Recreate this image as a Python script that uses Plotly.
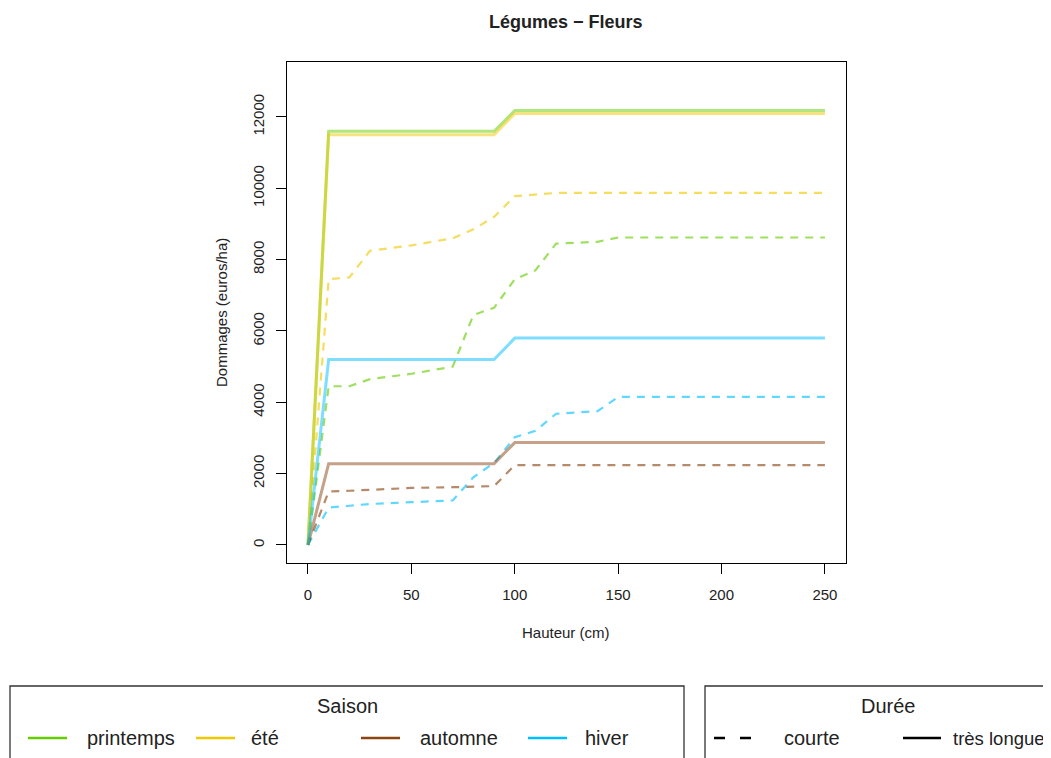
import plotly.graph_objects as go

# ---- data ----
x_long = [0, 10, 90, 100, 250]
printemps_long = [0, 11600, 11600, 12180, 12180]
ete_long = [0, 11500, 11500, 12100, 12100]
automne_long = [0, 2280, 2280, 2870, 2870]
hiver_long = [0, 5200, 5200, 5800, 5800]

x_court = [0, 10, 20, 30, 50, 70, 80, 90, 100, 110, 120, 140, 150, 250]
printemps_court = [0, 4450, 4450, 4650, 4800, 5000, 6450, 6650, 7450, 7700, 8450, 8500, 8620, 8620]
ete_court = [0, 7450, 7500, 8250, 8400, 8600, 8850, 9200, 9780, 9820, 9870, 9870, 9870, 9870]
automne_court = [0, 1500, 1520, 1550, 1600, 1620, 1630, 1650, 2240, 2240, 2240, 2240, 2240, 2240]
hiver_court = [0, 1050, 1100, 1150, 1200, 1250, 1900, 2300, 3020, 3200, 3680, 3750, 4150, 4150]

saisons = ["printemps", "été", "automne", "hiver"]
couleurs = ["#66CD00", "#EEC900", "#8B4513", "#00BFFF"]
durees = ["courte", "très longue"]

x_ticks = [0, 50, 100, 150, 200, 250]
y_ticks = [0, 2000, 4000, 6000, 8000, 10000, 12000]

OFF = 8  # page body margin
W, H = 1051 - OFF, 758 - OFF
# plot frame in screen pixels
SL, SR, ST, SB = 287, 846, 62, 563
L, R, T, B = SL - OFF, SR - OFF, ST - OFF, SB - OFF
FONT = "Liberation Sans, Arial, sans-serif"


def px(x):
    return (x - SL) / (SR - SL)


def py(y):
    return (SB - y) / (SB - ST)


fig = go.Figure()
long_series = [printemps_long, ete_long, automne_long, hiver_long]
court_series = [printemps_court, ete_court, automne_court, hiver_court]
for name, col, yc in zip(saisons, couleurs, court_series):
    fig.add_trace(go.Scatter(x=x_court, y=yc, mode="lines", name=name + " courte",
                             line=dict(color=col, width=2.2, dash="8px,7px"), opacity=0.62,
                             showlegend=False))
for name, col, yl in zip(saisons, couleurs, long_series):
    fig.add_trace(go.Scatter(x=x_long, y=yl, mode="lines", name=name + " très longue",
                             line=dict(color=col, width=3), opacity=0.5,
                             showlegend=False))

axis_common = dict(showgrid=False, zeroline=False, showline=True, mirror=True,
                   linecolor="black", linewidth=1.3, ticks="outside", ticklen=10,
                   tickcolor="black", tickwidth=1.3,
                   tickfont=dict(family=FONT, size=15, color="#222"))
fig.update_xaxes(range=[-10.15, 260.2], tickvals=x_ticks, ticklabelstandoff=8, **axis_common)
fig.update_yaxes(range=[-505, 13541], tickvals=y_ticks, tickformat="d", tickangle=-90,
                 ticklabelstandoff=6, **axis_common)

ann = []
shapes = []


def text(t, x, y, size=15, xanchor="center", angle=0):
    ann.append(dict(text=t, x=px(x), y=py(y), xref="paper", yref="paper",
                    xanchor=xanchor, yanchor="middle", showarrow=False, textangle=angle,
                    font=dict(family=FONT, size=size, color="#222")))


text("<b>Légumes − Fleurs</b>", 566, 22, size=18)
text("Hauteur (cm)", 566, 632)
text("Dommages (euros/ha)", 221, 313, angle=-90)

# legend boxes
shapes.append(dict(type="rect", xref="paper", yref="paper", x0=px(10), x1=px(684),
                   y0=py(775), y1=py(686), line=dict(color="#333", width=1.3)))
shapes.append(dict(type="rect", xref="paper", yref="paper", x0=px(705), x1=px(1070),
                   y0=py(775), y1=py(686), line=dict(color="#333", width=1.3)))
text("Saison", 347, 706, size=20)
text("Durée", 888, 706, size=20)
line_x = [28, 196, 361, 528]
text_x = [85, 249, 418, 583]
for name, col, lx, tx in zip(saisons, couleurs, line_x, text_x):
    shapes.append(dict(type="line", xref="paper", yref="paper", x0=px(lx), x1=px(lx + 39),
                       y0=py(738), y1=py(738), line=dict(color=col, width=2.5)))
    text(name, tx, 738, size=20, xanchor="left")
shapes.append(dict(type="line", xref="paper", yref="paper", x0=px(714), x1=px(751),
                   y0=py(738), y1=py(738), line=dict(color="black", width=2.5, dash="11px,15px")))
text(durees[0], 782, 738, size=20, xanchor="left")
shapes.append(dict(type="line", xref="paper", yref="paper", x0=px(903), x1=px(941),
                   y0=py(738), y1=py(738), line=dict(color="black", width=2.5)))
text(durees[1], 951, 738, size=18.5, xanchor="left")

fig.update_layout(width=W, height=H, margin=dict(l=L, r=W - R, t=T, b=H - B),
                  paper_bgcolor="white", plot_bgcolor="white",
                  annotations=ann, shapes=shapes, showlegend=False)
fig.write_html("out.html")
